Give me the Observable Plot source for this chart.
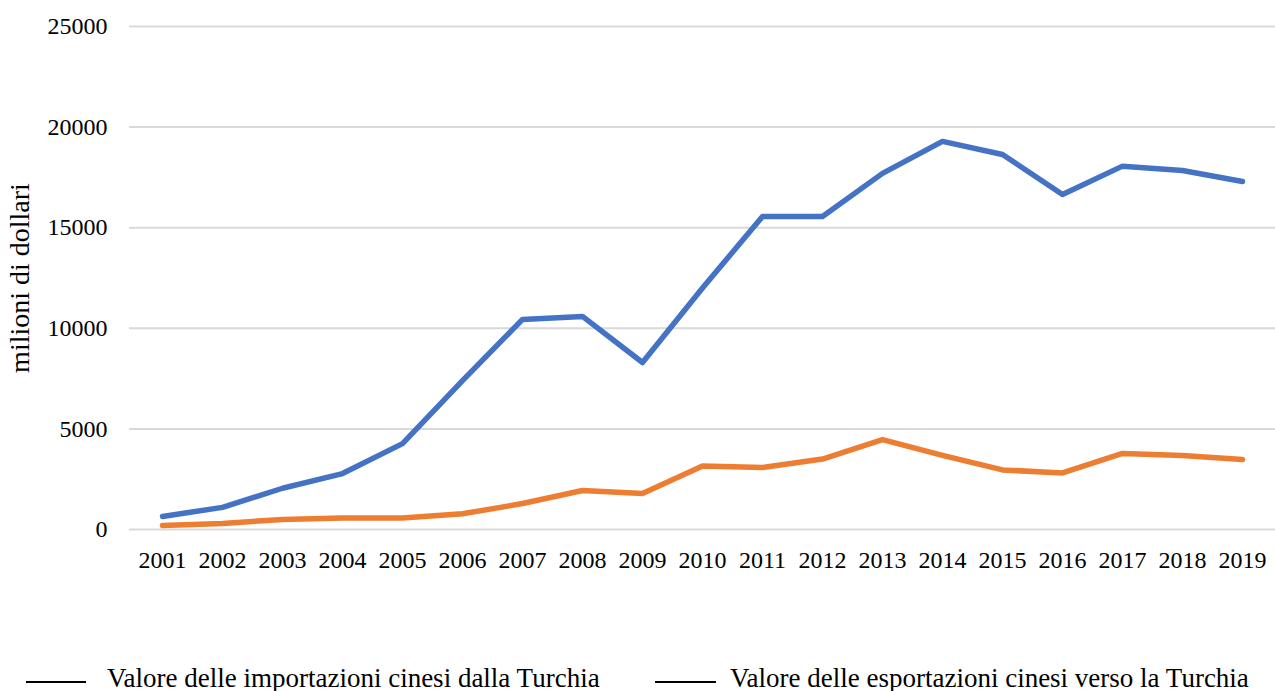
<!DOCTYPE html>
<html>
<head>
<meta charset="utf-8">
<script src="https://cdn.jsdelivr.net/npm/d3@7"></script>
<script src="https://cdn.jsdelivr.net/npm/@observablehq/plot@0.6"></script>
<style>
  html, body { margin: 0; padding: 0; background: #fff; }
  body { position: relative; width: 1275px; height: 691px; overflow: hidden; }
  #chart svg { display: block; }
  .lg-text { position: absolute; top: 663px; font-family: "Liberation Serif", "Times New Roman", serif; font-size: 27px; line-height: normal; color: #000; white-space: nowrap; }
  .lg-sw { position: absolute; top: 681px; height: 0; border-top: 2px solid #000; }
</style>
</head>
<body>
<div id="chart"></div>
<div class="lg-sw" style="left:26px; width:60px;"></div>
<div class="lg-text" id="l1" style="left:107px;"></div>
<div class="lg-sw" style="left:655px; width:61px;"></div>
<div class="lg-text" id="l2" style="left:730px;"></div>
<script>
const years = ["2001","2002","2003","2004","2005","2006","2007","2008","2009","2010","2011","2012","2013","2014","2015","2016","2017","2018","2019"];
const importazioni = [650, 1100, 2050, 2780, 4270, 7400, 10440, 10590, 8300, 12000, 15560, 15560, 17700, 19290, 18640, 16650, 18060, 17840, 17300];
const esportazioni = [200, 300, 500, 570, 570, 780, 1290, 1940, 1790, 3150, 3080, 3500, 4470, 3680, 2960, 2810, 3780, 3680, 3480];
const seriesNames = ["Valore delle importazioni cinesi dalla Turchia", "Valore delle esportazioni cinesi verso la Turchia"];
const seriesColors = ["#4472C4", "#ED7D31"];
const yTicks = [0, 5000, 10000, 15000, 20000, 25000];
const yLabel = "milioni di dollari";

const data = [];
years.forEach((y, i) => data.push({year: y, value: importazioni[i], serie: seriesNames[0]}));
years.forEach((y, i) => data.push({year: y, value: esportazioni[i], serie: seriesNames[1]}));

document.getElementById("l1").textContent = seriesNames[0];
document.getElementById("l2").textContent = seriesNames[1];

const chart = Plot.plot({
  width: 1275,
  height: 590,
  marginTop: 26,
  marginBottom: 61,
  marginLeft: 129,
  marginRight: 0,
  style: { fontFamily: "'Liberation Serif', 'Times New Roman', serif", fontSize: "24px", color: "#000", background: "#fff", overflow: "visible" },
  x: { type: "point", domain: years, padding: 0.5, label: null },
  y: { domain: [0, 25000], label: null },
  color: { domain: seriesNames, range: seriesColors },
  marks: [
    Plot.gridY(yTicks, { stroke: "#d9d9d9", strokeOpacity: 1, strokeWidth: 2 }),
    Plot.axisY(yTicks, { tickSize: 0, tickPadding: 22, tickFormat: d => String(d), fontSize: 24, label: yLabel, labelAnchor: "center", labelArrow: "none", labelOffset: 120 }),
    Plot.axisX(years, { tickSize: 0, tickPadding: 21, fontSize: 24, label: null }),
    Plot.line(data, { x: "year", y: "value", z: "serie", stroke: "serie", strokeWidth: 5.5, strokeLinejoin: "round", strokeLinecap: "round" })
  ]
});
// y-axis title size
chart.querySelectorAll("[aria-label='y-axis label'] text, [aria-label='y-axis label']").forEach(el => el.setAttribute("font-size", "28"));
document.getElementById("chart").appendChild(chart);
</script>
</body>
</html>
